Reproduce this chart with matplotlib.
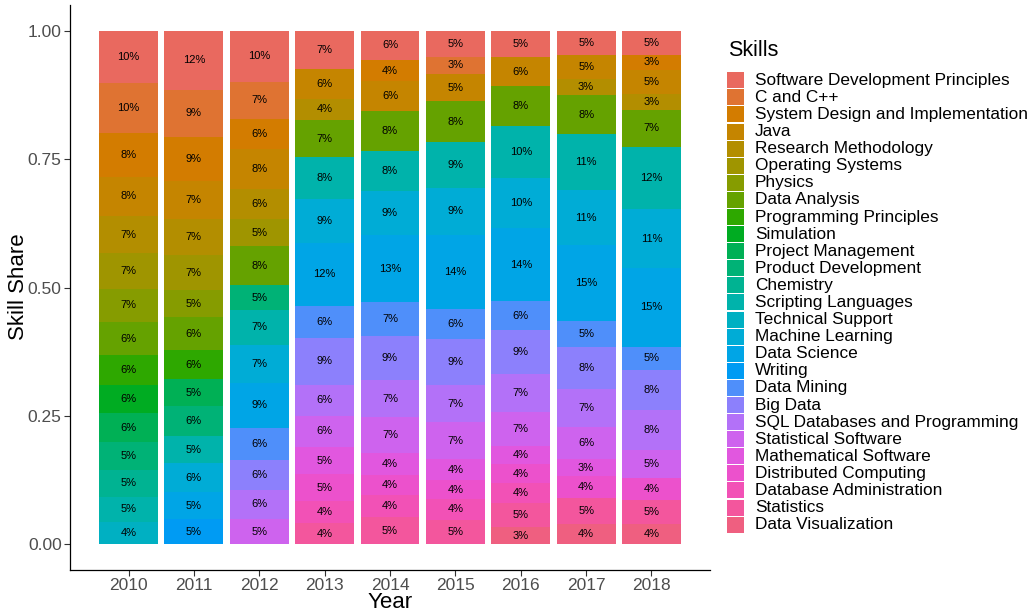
import numpy as np
import matplotlib
matplotlib.use("Agg")
import matplotlib.pyplot as plt
from matplotlib.patches import Rectangle

plt.rcParams['font.family'] = ['Liberation Sans', 'DejaVu Sans']

# ordem das categorias (legenda, de cima para baixo)
skills = [
    "Software Development Principles", "C and C++", "System Design and Implementation",
    "Java", "Research Methodology", "Operating Systems", "Physics", "Data Analysis",
    "Programming Principles", "Simulation", "Project Management", "Product Development",
    "Chemistry", "Scripting Languages", "Technical Support", "Machine Learning",
    "Data Science", "Writing", "Data Mining", "Big Data", "SQL Databases and Programming",
    "Statistical Software", "Mathematical Software", "Distributed Computing",
    "Database Administration", "Statistics", "Data Visualization",
]

years = [2010, 2011, 2012, 2013, 2014, 2015, 2016, 2017, 2018]

# participacao de cada skill por ano
shares_2010 = {
    "Software Development Principles": 0.102, "C and C++": 0.098,
    "System Design and Implementation": 0.084, "Java": 0.077,
    "Research Methodology": 0.072, "Operating Systems": 0.069, "Physics": 0.066,
    "Data Analysis": 0.064, "Programming Principles": 0.057, "Simulation": 0.056,
    "Project Management": 0.056, "Product Development": 0.054, "Chemistry": 0.053,
    "Scripting Languages": 0.048, "Technical Support": 0.044,
}
shares_2011 = {
    "Software Development Principles": 0.116, "C and C++": 0.091,
    "System Design and Implementation": 0.087, "Java": 0.073,
    "Research Methodology": 0.072, "Operating Systems": 0.067, "Physics": 0.054,
    "Data Analysis": 0.064, "Programming Principles": 0.057, "Project Management": 0.052,
    "Product Development": 0.058, "Scripting Languages": 0.054, "Machine Learning": 0.056,
    "Data Science": 0.053, "Writing": 0.049,
}
shares_2012 = {
    "Software Development Principles": 0.099, "C and C++": 0.073,
    "System Design and Implementation": 0.058, "Java": 0.078,
    "Research Methodology": 0.058, "Operating Systems": 0.052, "Data Analysis": 0.076,
    "Product Development": 0.048, "Scripting Languages": 0.068, "Machine Learning": 0.073,
    "Data Science": 0.088, "Data Mining": 0.063, "Big Data": 0.057,
    "SQL Databases and Programming": 0.057, "Statistical Software": 0.049,
}
shares_2013 = {
    "Software Development Principles": 0.074, "Java": 0.058, "Research Methodology": 0.042,
    "Data Analysis": 0.072, "Scripting Languages": 0.081, "Machine Learning": 0.086,
    "Data Science": 0.122, "Data Mining": 0.062, "Big Data": 0.092,
    "SQL Databases and Programming": 0.060, "Statistical Software": 0.060,
    "Mathematical Software": 0.054, "Distributed Computing": 0.051,
    "Database Administration": 0.043, "Statistics": 0.042,
}
shares_2014 = {
    "Software Development Principles": 0.057, "System Design and Implementation": 0.042,
    "Java": 0.058, "Data Analysis": 0.078, "Scripting Languages": 0.078,
    "Machine Learning": 0.086, "Data Science": 0.131, "Data Mining": 0.066,
    "Big Data": 0.086, "SQL Databases and Programming": 0.073,
    "Statistical Software": 0.070, "Mathematical Software": 0.042,
    "Distributed Computing": 0.039, "Database Administration": 0.044, "Statistics": 0.053,
}
shares_2015 = {
    "Software Development Principles": 0.051, "C and C++": 0.033, "Java": 0.054,
    "Data Analysis": 0.080, "Scripting Languages": 0.089, "Machine Learning": 0.092,
    "Data Science": 0.144, "Data Mining": 0.059, "Big Data": 0.090,
    "SQL Databases and Programming": 0.073, "Statistical Software": 0.071,
    "Mathematical Software": 0.042, "Distributed Computing": 0.036,
    "Database Administration": 0.041, "Statistics": 0.048,
}
shares_2016 = {
    "Software Development Principles": 0.052, "Java": 0.056, "Data Analysis": 0.078,
    "Scripting Languages": 0.102, "Machine Learning": 0.097, "Data Science": 0.143,
    "Data Mining": 0.056, "Big Data": 0.086, "SQL Databases and Programming": 0.074,
    "Statistical Software": 0.066, "Mathematical Software": 0.036,
    "Distributed Computing": 0.036, "Database Administration": 0.039,
    "Statistics": 0.047, "Data Visualization": 0.034,
}
shares_2017 = {
    "Software Development Principles": 0.047, "Java": 0.048, "Research Methodology": 0.030,
    "Data Analysis": 0.077, "Scripting Languages": 0.109, "Machine Learning": 0.107,
    "Data Science": 0.148, "Data Mining": 0.051, "Big Data": 0.082,
    "SQL Databases and Programming": 0.074, "Statistical Software": 0.062,
    "Mathematical Software": 0.033, "Distributed Computing": 0.042,
    "Statistics": 0.051, "Data Visualization": 0.040,
}
shares_2018 = {
    "Software Development Principles": 0.047, "System Design and Implementation": 0.029,
    "Java": 0.047, "Research Methodology": 0.031, "Data Analysis": 0.073,
    "Scripting Languages": 0.122, "Machine Learning": 0.114, "Data Science": 0.154,
    "Data Mining": 0.046, "Big Data": 0.077, "SQL Databases and Programming": 0.079,
    "Statistical Software": 0.054, "Distributed Computing": 0.043,
    "Statistics": 0.047, "Data Visualization": 0.040,
}

shares_by_year = [shares_2010, shares_2011, shares_2012, shares_2013, shares_2014,
                  shares_2015, shares_2016, shares_2017, shares_2018]


# paleta hue estilo ggplot (HCL)
def hcl_hex(h, c=100.0, l=60.0):
    hr = np.radians(h)
    u = c * np.cos(hr)
    v = c * np.sin(hr)
    Y = ((l + 16) / 116) ** 3
    un, vn = 0.1978398, 0.4683363
    up = u / (13 * l) + un
    vp = v / (13 * l) + vn
    X = 9 * Y * up / (4 * vp)
    Z = 3 * Y / vp - X / 3 - 5 * Y
    M = np.array([[3.2406, -1.5372, -0.4986],
                  [-0.9689, 1.8758, 0.0415],
                  [0.0557, -0.2040, 1.0570]])
    rgb = M @ np.array([X, Y, Z])
    rgb = np.where(rgb <= 0.0031308, 12.92 * rgb, 1.055 * np.abs(rgb) ** (1 / 2.4) - 0.055)
    return tuple(np.clip(rgb, 0, 1))


hues = np.linspace(15, 375, len(skills) + 1)[:-1]
cores = {s: hcl_hex(h) for s, h in zip(skills, hues)}

fig = plt.figure(figsize=(10.32, 6.15), dpi=100)
W, H = 1032, 615
ax = fig.add_axes([70 / W, 1 - 570 / H, 640 / W, 565 / H])

for ano, dados in zip(years, shares_by_year):
    total = sum(dados.values())
    base = 0.0
    # empilha de baixo para cima (ultimo nivel embaixo)
    for s in reversed(skills):
        if s not in dados:
            continue
        val = dados[s]
        h = val / total
        ax.bar(ano, h, width=0.9, bottom=base, color=cores[s], linewidth=0)
        ax.text(ano, base + h / 2, f"{round(val * 100)}%", ha="center", va="center",
                fontsize=8, color="black")
        base += h

ax.set_xlim(2010 - 0.45 - 0.445, 2018 + 0.45 + 0.445)
ax.set_ylim(-0.05, 1.05)
ax.set_xticks(years)
ax.set_xticklabels([str(a) for a in years])
ax.set_yticks([0, 0.25, 0.5, 0.75, 1.0])
ax.set_yticklabels(["0.00", "0.25", "0.50", "0.75", "1.00"])

for lado in ["top", "right"]:
    ax.spines[lado].set_visible(False)
for lado in ["left", "bottom"]:
    ax.spines[lado].set_color("black")
    ax.spines[lado].set_linewidth(0.9)
ax.tick_params(length=4, width=0.8, color="#333333", labelcolor="#4D4D4D",
               labelsize=12.5, pad=2)

fig.text(19 / W, 1 - 287 / H, "Skill Share", rotation=90, ha="center", va="center",
         fontsize=16)
fig.text(390 / W, 1 - 603 / H, "Year", ha="center", va="center", fontsize=16)

# legenda manual
fig.text(728 / W, 1 - 50 / H, "Skills", ha="left", va="center", fontsize=15.5)
for i, s in enumerate(skills):
    yc = 80.3 + 17.09 * i
    fig.add_artist(Rectangle((727 / W, 1 - (yc + 8) / H), 16.5 / W, 16 / H,
                             transform=fig.transFigure, color=cores[s], linewidth=0))
    fig.text(755 / W, 1 - yc / H, s, ha="left", va="center", fontsize=12.4)

fig.savefig("out.png", dpi=100)
